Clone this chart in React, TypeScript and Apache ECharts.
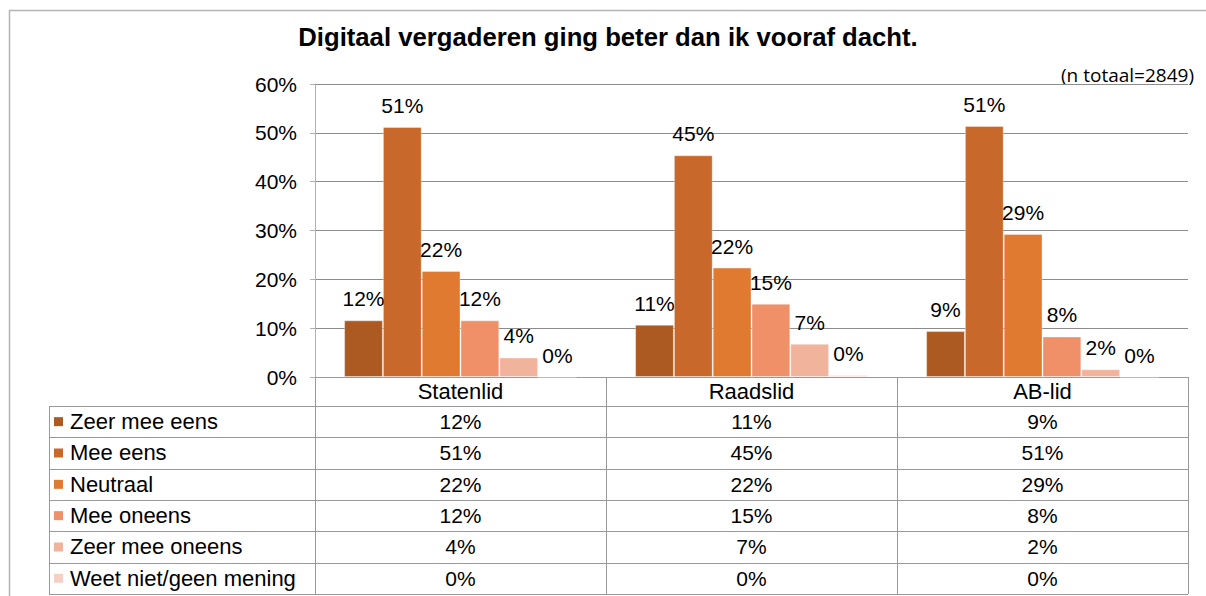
import React, { useEffect, useRef } from "react";
import * as echarts from "echarts";

const categories = ["Statenlid", "Raadslid", "AB-lid"];
const seriesNames = [
  "Zeer mee eens",
  "Mee eens",
  "Neutraal",
  "Mee oneens",
  "Zeer mee oneens",
  "Weet niet/geen mening",
];
const statenlid = [11.6, 51.2, 21.7, 11.6, 4.0, 0];
const raadslid = [10.7, 45.4, 22.4, 15.0, 6.8, 0.4];
const abLid = [9.4, 51.4, 29.3, 8.3, 1.6, 0];
const colors = ["#AD5A22", "#C8692B", "#E07A31", "#EF9068", "#F2B39C", "#F5D0C4"];
const title = "Digitaal vergaderen ging beter dan ik vooraf dacht.";
const note = "(n totaal=2849)";

const W = 1206;
const H = 596;
const GRID_LEFT = 315;
const GRID_RIGHT = 1188;
const GRID_TOP = 84;
const GRID_BOTTOM = 377;
const TABLE_LEFT = 49;
const HEADER_H = 29;
const ROW_H = 31.33;
const FONT = "'Liberation Sans', Arial, Helvetica, sans-serif";

export default function App() {
  const ref = useRef<HTMLDivElement>(null);
  useEffect(() => {
    if (!ref.current) return;
    const chart = echarts.init(ref.current, undefined, { renderer: "svg" });
    const byCat = [statenlid, raadslid, abLid];
    const tableTop = GRID_BOTTOM + HEADER_H;
    const graphics: any[] = [
      {
        type: "rect",
        shape: { x: 9.5, y: 10.5, width: 1300, height: 700 },
        style: { fill: "none", stroke: "#b4b4b4", lineWidth: 1.5 },
        silent: true,
      },
      {
        type: "text",
        x: 608,
        y: 37,
        style: {
          text: title,
          font: `bold 25.7px ${FONT}`,
          fill: "#000",
          textAlign: "center",
          textVerticalAlign: "middle",
        },
      },
      {
        type: "text",
        x: 1194,
        y: 75,
        style: {
          text: note,
          font: `19px 'Open Sans', sans-serif`,
          fill: "#000",
          textAlign: "right",
          textVerticalAlign: "middle",
        },
      },
      {
        type: "line",
        shape: { x1: TABLE_LEFT + 0.5, y1: tableTop, x2: TABLE_LEFT + 0.5, y2: tableTop + ROW_H * 6 },
        style: { stroke: "#999", lineWidth: 1 },
      },
    ];
    for (let r = 0; r <= 6; r++) {
      const y = Math.round(tableTop + r * ROW_H) + 0.5;
      graphics.push({
        type: "line",
        shape: { x1: TABLE_LEFT, y1: y, x2: GRID_RIGHT, y2: y },
        style: { stroke: "#999", lineWidth: 1 },
      });
    }
    seriesNames.forEach((name, i) => {
      const cy = tableTop + i * ROW_H + ROW_H / 2;
      graphics.push({
        type: "rect",
        shape: { x: 54, y: cy - 4.5, width: 9, height: 9 },
        style: { fill: colors[i] },
      });
      graphics.push({
        type: "text",
        x: 70,
        y: cy,
        style: {
          text: name,
          font: `22px ${FONT}`,
          fill: "#000",
          textAlign: "left",
          textVerticalAlign: "middle",
        },
      });
    });

    chart.setOption({
      animation: false,
      textStyle: { fontFamily: FONT },
      grid: {
        left: GRID_LEFT,
        right: W - GRID_RIGHT,
        top: GRID_TOP,
        bottom: H - GRID_BOTTOM,
        containLabel: false,
      },
      xAxis: {
        type: "category",
        data: categories,
        axisLine: { show: true, lineStyle: { color: "#999", width: 1 } },
        axisTick: { show: true, length: 217, alignWithLabel: false, lineStyle: { color: "#999" } },
        axisLabel: {
          margin: 0,
          interval: 0,
          color: "#000",
          formatter: (value: string, index: number) =>
            `{h|${value}}\n` +
            seriesNames.map((_, i) => `{v|${Math.round(byCat[index][i])}%}`).join("\n"),
          rich: {
            h: { fontSize: 22, lineHeight: HEADER_H, fontFamily: FONT, color: "#000" },
            v: { fontSize: 21, lineHeight: ROW_H, fontFamily: FONT, color: "#000" },
          },
        },
      },
      yAxis: {
        type: "value",
        min: 0,
        max: 60,
        interval: 10,
        axisLine: { show: true, lineStyle: { color: "#b0b0b0" } },
        axisTick: { show: true, length: 5, lineStyle: { color: "#b0b0b0" } },
        axisLabel: { formatter: "{value}%", fontSize: 21, color: "#000", margin: 18 },
        splitLine: { lineStyle: { color: "#8c8c8c", width: 1 } },
      },
      graphic: graphics,
      series: seriesNames.map((name, i) => ({
        name,
        type: "bar",
        data: byCat.map((c) => c[i]),
        barGap: "0%",
        barCategoryGap: "20%",
        itemStyle: { color: colors[i], borderColor: "rgba(255,255,255,0.35)", borderWidth: 1 },
        label: {
          show: true,
          position: "top",
          distance: 11,
          fontSize: 21,
          color: "#000",
          formatter: (p: any) => `${Math.round(p.value)}%`,
        },
      })),
    });
    return () => chart.dispose();
  }, []);
  return (
    <div
      ref={ref}
      style={{ position: "fixed", left: 0, top: 0, width: W, height: H, background: "#fff" }}
    />
  );
}
